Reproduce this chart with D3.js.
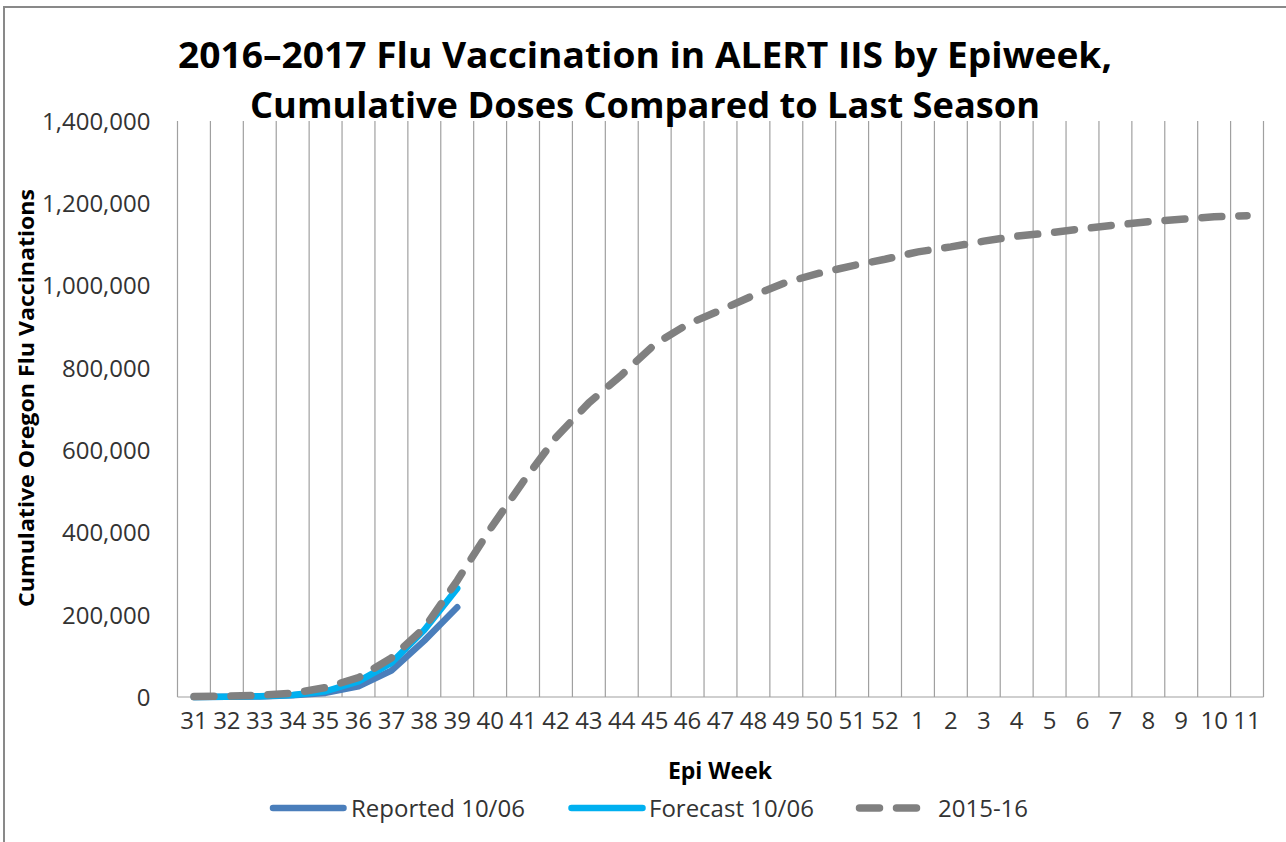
<!DOCTYPE html>
<html>
<head>
<meta charset="utf-8">
<script src="https://cdn.jsdelivr.net/npm/d3@7"></script>
<style>
  body { margin: 0; background: #fff; }
  text { font-family: "Open Sans", "Noto Sans", sans-serif; }
</style>
</head>
<body>
<div class="chart"></div>
<script>
// Epi weeks, season runs 31 -> 52 then 1 -> 11
var weeks = ["31", "32", "33", "34", "35", "36", "37", "38", "39", "40", "41",
  "42", "43", "44", "45", "46", "47", "48", "49", "50", "51", "52",
  "1", "2", "3", "4", "5", "6", "7", "8", "9", "10", "11"];

// cumulative doses
var reported = [0, 500, 1500, 4000, 10000, 26000, 64000, 137000, 218000];
var forecast = [0, 800, 2000, 5000, 14000, 38000, 83000, 163000, 264000];
var lastSeason = [1000, 2000, 4000, 9000, 23000, 47000, 95000, 168000, 283000,
  408000, 523000, 631000, 715000, 783000, 857000, 906000, 940000, 976000,
  1008000, 1030000, 1048000, 1064000, 1082000, 1094000, 1108000, 1120000,
  1128000, 1138000, 1147000, 1155000, 1161000, 1167000, 1170000];

var yTicks = [0, 200000, 400000, 600000, 800000, 1000000, 1200000, 1400000];
var seriesNames = ["Reported 10/06", "Forecast 10/06", "2015-16"];

var svgWidth = 1286;
var svgHeight = 842;

var plot = { left: 177.5, right: 1263.5, top: 121, bottom: 697 };

var svg = d3.select(".chart")
  .append("svg")
  .attr("width", svgWidth)
  .attr("height", svgHeight);

// chart border
svg.append("rect")
  .attr("x", 4)
  .attr("y", 7)
  .attr("width", 1400)
  .attr("height", 1000)
  .attr("fill", "none")
  .attr("stroke", "#898989")
  .attr("stroke-width", 2);

var xScale = d3.scaleBand()
  .domain(weeks)
  .range([plot.left, plot.right]);

var yScale = d3.scaleLinear()
  .domain([0, 1400000])
  .range([plot.bottom, plot.top]);

// vertical gridlines on the category boundaries
var bounds = weeks.map(w => xScale(w)).concat([plot.right]);
svg.append("g")
  .selectAll("line")
  .data(bounds)
  .enter()
  .append("line")
  .attr("x1", d => d)
  .attr("x2", d => d)
  .attr("y1", plot.top)
  .attr("y2", plot.bottom)
  .attr("stroke", "#a0a0a0")
  .attr("stroke-width", 1.2);

svg.append("line")
  .attr("x1", plot.left)
  .attr("x2", plot.right)
  .attr("y1", plot.bottom)
  .attr("y2", plot.bottom)
  .attr("stroke", "#a0a0a0")
  .attr("stroke-width", 1.2);

// axes
var yAxis = d3.axisLeft(yScale)
  .tickValues(yTicks)
  .tickFormat(d3.format(","))
  .tickSize(0)
  .tickPadding(27);

var xAxis = d3.axisBottom(xScale)
  .tickSize(0)
  .tickPadding(27);

var yG = svg.append("g")
  .attr("transform", `translate(${plot.left}, 0)`)
  .call(yAxis);

var xG = svg.append("g")
  .attr("transform", `translate(0, ${plot.bottom})`)
  .call(xAxis);

[yG, xG].forEach(function(g) {
  g.select(".domain").remove();
  g.selectAll("text")
    .attr("fill", "#333")
    .style("font-size", "24px")
    .style("font-family", "'Open Sans', sans-serif");
});
xG.selectAll("text").attr("dy", "0.2em");
yG.selectAll("text").attr("dy", "0.35em");

// lines
var line = d3.line()
  .x((d, i) => xScale(weeks[i]) + xScale.bandwidth() / 2)
  .y(d => yScale(d));

svg.append("path")
  .datum(reported)
  .attr("d", line)
  .attr("fill", "none")
  .attr("stroke", "#4a7ebb")
  .attr("stroke-width", 6.5)
  .attr("stroke-linecap", "round")
  .attr("stroke-linejoin", "round");

svg.append("path")
  .datum(forecast)
  .attr("d", line)
  .attr("fill", "none")
  .attr("stroke", "#00b0f0")
  .attr("stroke-width", 6.5)
  .attr("stroke-linecap", "round")
  .attr("stroke-linejoin", "round");

svg.append("path")
  .datum(lastSeason)
  .attr("d", line)
  .attr("fill", "none")
  .attr("stroke", "#808080")
  .attr("stroke-width", 7.5)
  .attr("stroke-dasharray", "20,17")
  .attr("stroke-linecap", "round");

// titles
var titleLines = ["2016\u20132017 Flu Vaccination in ALERT IIS by Epiweek,",
  "Cumulative Doses Compared to Last Season"];
svg.append("text")
  .attr("x", 645)
  .attr("y", 68)
  .attr("text-anchor", "middle")
  .attr("textLength", 934)
  .attr("lengthAdjust", "spacingAndGlyphs")
  .style("font-size", "35px")
  .style("font-weight", "bold")
  .text(titleLines[0]);

svg.append("text")
  .attr("x", 645)
  .attr("y", 118)
  .attr("text-anchor", "middle")
  .attr("textLength", 790)
  .attr("lengthAdjust", "spacingAndGlyphs")
  .style("font-size", "35px")
  .style("font-weight", "bold")
  .text(titleLines[1]);

// axis titles
svg.append("text")
  .attr("transform", "translate(34, 398) rotate(-90)")
  .attr("text-anchor", "middle")
  .attr("textLength", 418)
  .attr("lengthAdjust", "spacingAndGlyphs")
  .style("font-size", "21px")
  .style("font-weight", "bold")
  .text("Cumulative Oregon Flu Vaccinations");

svg.append("text")
  .attr("x", 720)
  .attr("y", 779)
  .attr("text-anchor", "middle")
  .style("font-size", "23px")
  .style("font-weight", "bold")
  .text("Epi Week");

// legend
var legendItems = [
  { name: seriesNames[0], x1: 273, x2: 343.5, tx: 351, color: "#4a7ebb", dash: null, w: 6.5 },
  { name: seriesNames[1], x1: 571.5, x2: 642.5, tx: 649, color: "#00b0f0", dash: null, w: 6.5 },
  { name: seriesNames[2], x1: 859.5, x2: 916.5, tx: 938, color: "#808080", dash: "20,17", w: 7.5 }
];

var legend = svg.append("g");
legend.selectAll("line")
  .data(legendItems)
  .enter()
  .append("line")
  .attr("x1", d => d.x1)
  .attr("x2", d => d.x2)
  .attr("y1", 808)
  .attr("y2", 808)
  .attr("stroke", d => d.color)
  .attr("stroke-width", d => d.w)
  .attr("stroke-linecap", "round")
  .attr("stroke-dasharray", d => d.dash);

legend.selectAll("text")
  .data(legendItems)
  .enter()
  .append("text")
  .attr("x", d => d.tx)
  .attr("y", 817)
  .attr("fill", "#333")
  .style("font-size", "24px")
  .text(d => d.name);
</script>
</body>
</html>
